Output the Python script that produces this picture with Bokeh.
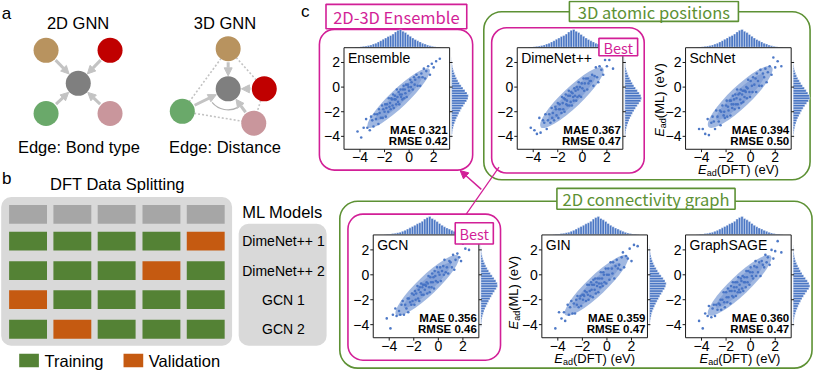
import numpy as np
from bokeh.plotting import figure
from bokeh.models import Range1d, BoxAnnotation, Arrow, NormalHead
from bokeh.core.properties import value
from bokeh.embed import file_html
from bokeh.resources import INLINE

# ======================= DATA =======================
# panel a
gnn_titles = ["2D GNN", "3D GNN"]
gnn_edges = ["Edge: Bond type", "Edge: Distance"]
node_colors = ["#b8935f", "#c00000", "#6aa96a", "#c9969c"]   # tan, red, green, pink
center_color = "#7f7f7f"

# panel b
n_folds = 5
model_runs = ["DimeNet++ 1", "DimeNet++ 2", "GCN 1", "GCN 2"]
validation_fold = [4, 3, 0, 1]
split_legend = ["Training", "Validation"]

# panel c
models = ["Ensemble", "DimeNet++", "SchNet", "GCN", "GIN", "GraphSAGE"]
mae = ["0.321", "0.367", "0.394", "0.356", "0.359", "0.360"]
rmse = ["0.42", "0.47", "0.50", "0.46", "0.47", "0.47"]
tick_values = [-4, -2, 0, 2]
tick_labels = ["\u22124", "\u22122", "0", "2"]

dft = [-4.2, -3.9, -3.7, -3.5, -3.4, -3.2, -3.1, -3.0, -2.9, -2.8,
       -2.7, -2.6, -2.5, -2.45, -2.4, -2.3, -2.2, -2.15, -2.1, -2.0,
       -1.95, -1.9, -1.85, -1.8, -1.7, -1.65, -1.6, -1.55, -1.5, -1.45,
       -1.4, -1.35, -1.3, -1.25, -1.2, -1.15, -1.1, -1.05, -1.0, -0.95,
       -0.9, -0.85, -0.8, -0.75, -0.7, -0.65, -0.6, -0.55, -0.5, -0.45,
       -0.4, -0.35, -0.3, -0.25, -0.2, -0.1, -0.05, 0.0, 0.1, 0.15,
       0.2, 0.3, 0.4, 0.45, 0.5, 0.6, 0.7, 0.8, 0.9, 1.0,
       1.1, 1.2, 1.3, 1.4, 1.55, 1.7, 1.85, 2.0, 2.2, 2.5]
ml_ensemble = [-3.6, -4.1, -3.3, -2.6, -3.3, -3.5, -2.4, -2.7, -3.2, -2.2,
               -2.6, -2.2, -3.0, -1.8, -2.1, -2.5, -1.5, -2.5, -1.8, -2.0,
               -1.4, -2.4, -1.7, -1.4, -2.0, -0.9, -1.6, -1.3, -1.8, -0.9,
               -1.0, -1.5, -0.6, -1.7, -1.0, -0.7, -1.0, -1.4, -0.2, -0.8,
               -1.2, -0.4, -1.4, -0.6, -0.2, -0.8, -0.6, -1.0, -0.2, 0.1,
               -0.9, -0.2, -0.5, 0.2, -0.8, 0.2, 0.0, -0.3, 0.6, 0.0,
               0.4, -0.2, 0.8, 0.2, 0.6, 1.0, 0.1, 0.8, 0.1, 1.1,
               0.8, 1.5, 0.7, 1.3, 1.7, 1.0, 1.9, 1.6, 2.1, 2.3]
ml_dimenet = [-3.3, -3.5, -3.8, -2.5, -3.7, -2.7, -2.9, -2.2, -3.4, -2.7,
              -2.2, -2.9, -1.7, -2.5, -2.1, -2.7, -1.6, -1.8, -2.3, -1.3,
              -2.5, -1.8, -1.4, -1.8, -2.1, -0.8, -1.3, -1.8, -0.9, -2.0,
              -1.0, -0.6, -1.4, -1.1, -1.5, -0.7, -0.3, -1.5, -0.7, -1.2,
              -0.4, -1.5, -0.5, -0.8, -1.1, -0.1, -0.7, -0.3, -1.1, 0.0,
              -0.8, -0.2, 0.4, -0.7, 0.0, -0.8, 0.3, -0.1, 0.7, -0.3,
              0.3, 0.7, -0.2, 0.7, 0.3, 0.5, 0.5, 1.0, 0.1, 0.9,
              1.6, 0.8, 0.4, 1.7, 1.4, 1.0, 2.2, 1.7, 2.2, 1.5]
ml_schnet = [-3.4, -3.4, -3.8, -2.6, -3.9, -2.9, -2.4, -2.8, -3.4, -1.9,
             -2.4, -2.8, -1.9, -3.1, -2.0, -1.5, -2.3, -2.0, -2.5, -1.5,
             -1.1, -2.4, -1.6, -1.9, -1.1, -2.3, -1.1, -1.4, -1.7, -0.7,
             -1.4, -1.0, -1.8, -0.6, -1.4, -0.9, -0.2, -1.4, -0.6, -1.7,
             -0.5, -1.0, -0.2, -1.3, -0.6, -0.3, -1.2, -0.3, -0.8, -0.3,
             -0.4, 0.0, -0.9, -0.1, 0.6, -0.4, -0.8, 0.5, 0.1, -0.4,
             0.8, 0.2, 0.7, -0.4, 1.1, 0.5, 0.1, 1.4, 0.1, 1.1,
             0.8, 1.5, 0.4, 1.2, 1.7, 1.0, 2.4, 1.6, 2.1, 1.7]
ml_gcn = [-3.5, -4.3, -3.2, -2.7, -3.3, -2.9, -3.2, -2.4, -2.1, -3.2,
          -2.4, -2.7, -1.9, -3.0, -1.9, -2.2, -2.4, -1.5, -2.1, -1.6,
          -2.4, -1.3, -2.0, -1.5, -0.9, -1.9, -1.2, -2.1, -1.0, -1.4,
          -0.7, -1.6, -1.0, -0.8, -1.6, -0.8, -1.2, -0.8, -0.9, -0.6,
          -1.5, -0.7, -0.1, -1.0, -1.4, -0.2, -0.6, -1.0, 0.1, -0.6,
          -0.2, -1.1, 0.3, -0.1, -0.5, 0.6, -0.6, 0.2, 0.0, 0.6,
          -0.5, 0.3, 0.7, 0.0, 1.2, 0.2, 0.6, 0.1, 1.1, 1.0,
          0.6, 1.6, 0.4, 1.2, 1.7, 1.4, 1.1, 2.5, 2.1, 2.0]
ml_gin = [-4.3, -3.0, -3.5, -3.0, -3.7, -2.4, -3.2, -2.6, -2.1, -3.1,
          -2.3, -3.1, -2.0, -2.4, -1.7, -2.6, -1.9, -1.7, -2.5, -1.6,
          -2.0, -1.6, -1.7, -1.3, -2.1, -1.4, -0.8, -1.6, -2.0, -0.8,
          -1.3, -1.7, -0.6, -1.2, -0.8, -1.8, -0.4, -0.8, -1.2, -0.3,
          -1.5, -0.6, -0.9, -0.3, -1.4, -0.7, -0.3, -1.0, 0.2, -0.7,
          -0.3, -0.9, 0.2, 0.0, -0.6, 0.5, -0.7, 0.0, 0.5, 0.0,
          -0.4, 1.0, 0.5, 0.1, 1.0, -0.3, 0.7, 1.2, 0.5, 0.8,
          0.4, 1.4, 1.8, 0.6, 1.5, 1.3, 2.1, 1.1, 2.4, 2.3]
ml_sage = [-3.7, -4.3, -3.1, -3.3, -2.5, -3.4, -2.7, -2.4, -3.3, -2.4,
           -2.8, -2.3, -2.4, -2.0, -2.8, -2.0, -1.4, -2.2, -2.6, -1.4,
           -1.8, -2.2, -1.1, -1.8, -1.3, -2.3, -0.9, -1.3, -1.7, -0.6,
           -1.8, -1.0, -1.3, -0.6, -1.7, -1.0, -0.6, -1.4, -0.2, -1.2,
           -0.8, -1.4, -0.3, -0.5, -1.1, -0.1, -1.3, -0.6, -0.2, -0.6,
           -1.0, 0.3, -0.2, -0.6, 0.3, -0.8, 0.2, 0.6, -0.1, 0.2,
           -0.3, 0.7, 1.1, -0.1, 0.6, 0.2, 1.0, -0.1, 1.1, 0.8,
           0.6, 1.6, 1.0, 1.4, 0.8, 2.0, 1.3, 1.9, 2.7, 1.8]
ml_values = [ml_ensemble, ml_dimenet, ml_schnet, ml_gcn, ml_gin, ml_sage]

# dense core of each cloud (estimated): centre, length, thickness
band_center = [(-0.85, -0.9), (-0.85, -0.85), (-0.85, -0.8), (-0.9, -0.85), (-0.85, -0.85), (-0.9, -0.85)]
band_length = [6.9, 7.0, 7.1, 7.0, 7.0, 7.0]
band_thick = [1.45, 1.6, 1.7, 1.55, 1.55, 1.55]

hist_edges = [-4.4, -4.2, -4.0, -3.8, -3.6, -3.4, -3.2, -3.0, -2.8, -2.6, -2.4, -2.2,
              -2.0, -1.8, -1.6, -1.4, -1.2, -1.0, -0.8, -0.6, -0.4, -0.2, 0.0, 0.2,
              0.4, 0.6, 0.8, 1.0, 1.2, 1.4, 1.6, 1.8, 2.0, 2.2, 2.4, 2.6]
dft_hist = [0.01, 0.02, 0.03, 0.05, 0.07, 0.10, 0.13, 0.18, 0.23, 0.30,
            0.37, 0.45, 0.52, 0.60, 0.66, 0.74, 0.86, 0.95, 1.00, 0.90,
            0.82, 0.72, 0.62, 0.52, 0.43, 0.36, 0.30, 0.23, 0.18, 0.12,
            0.08, 0.05, 0.03, 0.02, 0.01]
hist_ensemble = [0.00, 0.01, 0.02, 0.04, 0.06, 0.09, 0.13, 0.18, 0.24, 0.30,
                 0.37, 0.44, 0.52, 0.60, 0.70, 0.80, 0.90, 0.98, 1.00, 0.92,
                 0.80, 0.68, 0.57, 0.47, 0.38, 0.30, 0.23, 0.17, 0.12, 0.08,
                 0.05, 0.03, 0.02, 0.01, 0.00]
hist_dimenet = [0.00, 0.01, 0.03, 0.05, 0.07, 0.10, 0.14, 0.19, 0.25, 0.31,
                0.38, 0.46, 0.55, 0.64, 0.74, 0.85, 0.95, 1.00, 0.96, 0.86,
                0.75, 0.64, 0.54, 0.45, 0.37, 0.29, 0.22, 0.16, 0.11, 0.07,
                0.04, 0.03, 0.02, 0.01, 0.00]
hist_schnet = [0.00, 0.01, 0.02, 0.04, 0.06, 0.09, 0.12, 0.17, 0.22, 0.28,
               0.35, 0.43, 0.51, 0.60, 0.70, 0.81, 0.92, 1.00, 0.97, 0.88,
               0.78, 0.67, 0.56, 0.46, 0.37, 0.28, 0.21, 0.15, 0.10, 0.06,
               0.04, 0.02, 0.01, 0.00, 0.00]
hist_gcn = [0.00, 0.02, 0.03, 0.05, 0.07, 0.10, 0.14, 0.19, 0.25, 0.32,
            0.39, 0.47, 0.55, 0.63, 0.72, 0.82, 0.92, 1.00, 0.98, 0.90,
            0.79, 0.68, 0.57, 0.47, 0.38, 0.30, 0.23, 0.17, 0.12, 0.08,
            0.05, 0.03, 0.02, 0.01, 0.00]
hist_gin = [0.00, 0.01, 0.02, 0.04, 0.07, 0.10, 0.13, 0.18, 0.24, 0.31,
            0.38, 0.46, 0.54, 0.62, 0.71, 0.80, 0.90, 0.97, 1.00, 0.93,
            0.82, 0.70, 0.59, 0.49, 0.40, 0.31, 0.24, 0.18, 0.13, 0.09,
            0.06, 0.04, 0.02, 0.01, 0.00]
hist_sage = [0.00, 0.01, 0.02, 0.04, 0.06, 0.09, 0.13, 0.18, 0.24, 0.30,
             0.37, 0.45, 0.53, 0.62, 0.72, 0.83, 0.94, 1.00, 0.95, 0.85,
             0.74, 0.63, 0.53, 0.44, 0.36, 0.28, 0.21, 0.15, 0.11, 0.07,
             0.05, 0.03, 0.02, 0.01, 0.00]
ml_hists = [hist_ensemble, hist_dimenet, hist_schnet, hist_gcn, hist_gin, hist_sage]

# ======================= STYLE / LAYOUT =======================
FONT = "Liberation Sans"
BOXFONT = "Noto Sans CJK JP"
MAG = "#d21f97"
GRN = "#5d9134"
ARROW_GRAY = "#c3c3c3"
PT = "#4472c4"
HIST = "#4a76c4"
TRAIN = "#548235"
VALID = "#c55a11"
HEAD = "#a6a6a6"
BOXGRAY = "#d9d9d9"

W, H = 814, 370
MX0, MX1 = 2.0, 829.0      # reference-pixel frame (x)
MY0, MY1 = 384.0, 0.0      # reference-pixel frame (y, inverted)
SX = W / (MX1 - MX0)
SY = H / (MY0 - MY1)

p = figure(width=W, height=H, x_range=Range1d(MX0, MX1), y_range=Range1d(MY0, MY1),
           output_backend="svg", toolbar_location=None, min_border=0,
           x_axis_type=None, y_axis_type=None)
p.outline_line_color = None
p.background_fill_color = "white"
p.border_fill_color = "white"


def txt(x, y, t, size="16px", color="black", align="center", baseline="middle",
        font=FONT, style="normal", angle=0.0, **kw):
    p.text(x=x, y=y, text=t, text_font=value(font), text_font_size=size,
           text_color=color, text_align=align, text_baseline=baseline,
           text_font_style=style, angle=angle, **kw)


def rbox(l, r, t, b, line_color=None, fill_color=None, radius=0, lw=1.6):
    p.add_layout(BoxAnnotation(left=l, right=r, top=t, bottom=b,
                               fill_color=fill_color, fill_alpha=1.0 if fill_color else 0.0,
                               line_color=line_color, line_width=lw, line_alpha=1.0 if line_color else 0.0,
                               border_radius=radius, level="underlay"))


def xr(va, Xa, vb, Xb):
    k = (Xb - Xa) / (vb - va)
    s = va - (Xa - MX0) / k
    return Range1d(s, s + (MX1 - MX0) / k)


def yr(v_bot, Y_bot, v_top, Y_top):
    k = (Y_bot - Y_top) / (v_top - v_bot)
    s = v_bot - (MY0 - Y_bot) / k
    return Range1d(s, s + (MY0 - MY1) / k)


# ======================= PANEL a =======================
txt([8], [13], ["a"], size="17px")
txt([80.8, 230], [23.3, 23.3], gnn_titles, size="16.5px")
txt([81.7, 230], [151.7, 151.7], gnn_edges, size="16.5px")

pos2d = [(48.3, 51.7), (113.3, 51.7), (48.3, 117.3), (113.3, 117.3)]
c2d = (81.0, 86.0)
pos3d = [(233.3, 50.0), (270.0, 91.7), (186.7, 115.0), (259.3, 127.3)]
c3d = (233.3, 91.7)

pairs = [(0, 2), (0, 1), (1, 3), (2, 3)]
p.segment(x0=[pos3d[a][0] for a, b in pairs], y0=[pos3d[a][1] for a, b in pairs],
          x1=[pos3d[b][0] for a, b in pairs], y1=[pos3d[b][1] for a, b in pairs],
          line_color=ARROW_GRAY, line_width=1.6, line_dash="2 2")
p.arc(x=[c3d[0]], y=[c3d[1]], radius=21, radius_units="screen",
      start_angle=np.radians(-140), end_angle=np.radians(-62), direction="anticlock",
      line_color="#b0b0b0", line_width=1.2)


def arrow_between(src, dst, r_src=14.0, r_dst=13.5):
    v = np.array([dst[0] - src[0], dst[1] - src[1]])
    u = v / np.hypot(*v)
    p.add_layout(Arrow(end=NormalHead(size=8, fill_color=ARROW_GRAY, line_color=ARROW_GRAY),
                       x_start=src[0] + u[0] * r_src, y_start=src[1] + u[1] * r_src,
                       x_end=dst[0] - u[0] * r_dst, y_end=dst[1] - u[1] * r_dst,
                       line_color=ARROW_GRAY, line_width=3))


for q in pos2d:
    arrow_between(q, c2d)
for q in pos3d:
    arrow_between(q, c3d)

p.scatter(x=[q[0] for q in pos2d] + [c2d[0]], y=[q[1] for q in pos2d] + [c2d[1]],
          marker="circle", size=25, fill_color=node_colors + [center_color], line_color=None)
p.scatter(x=[q[0] for q in pos3d] + [c3d[0]], y=[q[1] for q in pos3d] + [c3d[1]],
          marker="circle", size=25, fill_color=node_colors + [center_color], line_color=None)

# ======================= PANEL b =======================
txt([8.3], [185], ["b"], size="17px")
txt([120.8], [190.7], ["DFT Data Splitting"], size="16.5px")
rbox(2.7, 237.3, 204, 358.3, fill_color=BOXGRAY, radius=10)
rbox(244, 333.3, 231.7, 358.3, fill_color=BOXGRAY, radius=10)

col_x = [30.0, 75.0, 120.0, 165.5, 210.5]
row_y = [222.0, 249.7, 280.3, 310.5, 341.2]
cx, cy, cc = [], [], []
for f in range(n_folds):
    cx.append(col_x[f]); cy.append(row_y[0]); cc.append(HEAD)
for i, vf in enumerate(validation_fold):
    for f in range(n_folds):
        cx.append(col_x[f]); cy.append(row_y[i + 1])
        cc.append(VALID if f == vf else TRAIN)
p.rect(x=cx, y=cy, width=38.5, height=19.5, fill_color=cc, line_color=None)

txt([288.5], [220], ["ML Models"], size="16.5px")
txt([289.5] * 4, row_y[1:], model_runs, size="14px")

p.rect(x=[31, 137], y=[373.7, 373.7], width=20, height=14, fill_color=[TRAIN, VALID], line_color=None)
txt([46.7, 152.7], [373.7, 373.7], split_legend, align="left", size="16.5px")

# ======================= PANEL c =======================
txt([311.7], [11.7], ["c"], size="17px")

rbox(493, 824.5, 11.7, 186, line_color=GRN, radius=18)
rbox(346.7, 826.5, 208.3, 381.5, line_color=GRN, radius=18)
rbox(326, 481.7, 30, 176, line_color=MAG, radius=15)
rbox(501, 656, 28.3, 179, line_color=MAG, radius=15)
rbox(355, 510, 221.7, 373.3, line_color=MAG, radius=15)

XLIM = (-5.3, 3.3)
YLIM = (-5.05, 3.2)
frames = [(351.0, 458.3, 49.0, 154.4), (527.0, 634.3, 49.0, 154.4), (698.0, 805.3, 49.0, 154.4),
          (380.7, 488.0, 243.3, 350.0), (552.0, 659.3, 243.3, 350.0), (698.0, 805.3, 243.3, 350.0)]

for i, m in enumerate(models):
    X0, X1, Y0, Y1 = frames[i]
    xn, yn, htn, hrn = f"px{i}", f"py{i}", f"pht{i}", f"phr{i}"
    p.extra_x_ranges[xn] = xr(XLIM[0], X0, XLIM[1], X1)
    p.extra_y_ranges[yn] = yr(YLIM[0], Y1, YLIM[1], Y0)
    p.extra_y_ranges[htn] = yr(0.0, Y0 - 0.5, 1.0, Y0 - 19.0)
    p.extra_x_ranges[hrn] = xr(0.0, X1 + 2.0, 1.0, X1 + 19.0)
    kx = (X1 - X0) / (XLIM[1] - XLIM[0])
    ky = (Y1 - Y0) / (YLIM[1] - YLIM[0])
    R = dict(x_range_name=xn, y_range_name=yn)

    p.quad(left=hist_edges[:-1], right=hist_edges[1:], bottom=0, top=dft_hist,
           x_range_name=xn, y_range_name=htn, fill_color=HIST, line_color="white", line_width=0.4)
    p.quad(left=0, right=ml_hists[i], bottom=hist_edges[:-1], top=hist_edges[1:],
           x_range_name=hrn, y_range_name=yn, fill_color=HIST, line_color="white", line_width=0.4)

    bx, by = band_center[i]
    p.ellipse(x=[bx], y=[by], width=[band_length[i]], height=[band_thick[i]], angle=0.76,
              fill_color=PT, fill_alpha=0.5, line_color=None, **R)
    p.ellipse(x=[bx], y=[by], width=[band_length[i] * 0.75], height=[band_thick[i] * 0.62], angle=0.76,
              fill_color=PT, fill_alpha=0.3, line_color=None, **R)
    p.scatter(x=dft, y=ml_values[i], size=2.6, fill_color=PT, line_color=None, fill_alpha=0.95, **R)

    p.quad(left=XLIM[0], right=XLIM[1], bottom=YLIM[0], top=YLIM[1], fill_color=None,
           line_color="#1a1a1a", line_width=1, **R)
    tlx, tly = 3.0 / kx, 3.0 / ky
    n = len(tick_values)
    p.segment(x0=[XLIM[0]] * n, y0=tick_values, x1=[XLIM[0] - tlx] * n, y1=tick_values,
              line_color="#1a1a1a", line_width=1, **R)
    p.segment(x0=[XLIM[1]] * n, y0=tick_values, x1=[XLIM[1] + tlx] * n, y1=tick_values,
              line_color="#1a1a1a", line_width=1, **R)
    p.segment(x0=tick_values, y0=[YLIM[0]] * n, x1=tick_values, y1=[YLIM[0] - tly] * n,
              line_color="#1a1a1a", line_width=1, **R)
    txt([XLIM[0]] * n, tick_values, tick_labels, size="14px", align="right", x_offset=-4, **R)
    txt(tick_values, [YLIM[0] - 3.0 / ky] * n, tick_labels, size="14px", baseline="top", **R)

    txt([XLIM[0] + 4.0 / kx], [YLIM[1] - 2.0 / ky], [m], size="14px", align="left", baseline="top", **R)
    txt([XLIM[1]] * 2, [YLIM[0] + 20.0 / ky, YLIM[0] + 8.7 / ky], ["MAE " + mae[i], "RMSE " + rmse[i]],
        size="11.5px", style="bold", align="right", x_offset=-2, **R)


def xlabel(xc, yc, inner, inner_w):
    widths = [8.7, 10.0, inner_w]
    total = sum(widths)
    txt([xc + (-total / 2) / SX], [yc], ["E"], size="13px", style="italic", align="left")
    txt([xc + (-total / 2 + widths[0]) / SX], [yc + 3.5 / SY], ["ad"], size="9px", align="left")
    txt([xc + (-total / 2 + widths[0] + widths[1]) / SX], [yc], [inner], size="13px", align="left")


def ylabel(xc, yc, inner, inner_w):
    widths = [8.7, 10.0, inner_w]
    total = sum(widths)
    a = np.pi / 2
    txt([xc], [yc + (total / 2) / SY], ["E"], size="13px", style="italic", align="left", angle=a)
    txt([xc + 3.5 / SX], [yc + (total / 2 - widths[0]) / SY], ["ad"], size="9px", align="left", angle=a)
    txt([xc], [yc + (total / 2 - widths[0] - widths[1]) / SY], [inner], size="13px", align="left", angle=a)


xlabel(751.7, 175.0, "(DFT) (eV)", 62.1)
xlabel(605.7, 371.7, "(DFT) (eV)", 62.1)
xlabel(753.3, 371.7, "(DFT) (eV)", 62.1)
ylabel(671.7, 103.3, "(ML) (eV)", 54.9)
ylabel(523.3, 303.3, "(ML) (eV)", 54.9)

# label boxes (square corners)
lb_l = [332.7, 580.0, 567.3, 610.0, 464.0]
lb_r = [475.7, 751.7, 748.3, 649.3, 502.7]
lb_t = [4.0, 1.0, 195.0, 39.3, 230.7]
lb_b = [29.3, 21.7, 216.7, 57.3, 252.7]
lb_c = [MAG, GRN, GRN, MAG, MAG]
lb_text = ["2D-3D Ensemble", "3D atomic positions", "2D connectivity graph", "Best", "Best"]
lb_size = ["16.5px", "16.5px", "16.5px", "14.5px", "14.5px"]
p.quad(left=lb_l, right=lb_r, top=lb_t, bottom=lb_b, fill_color="white", line_color=lb_c, line_width=1.6)
for j in range(len(lb_text)):
    txt([(lb_l[j] + lb_r[j]) / 2], [(lb_t[j] + lb_b[j]) / 2 + 0.5], [lb_text[j]],
        size=lb_size[j], color=lb_c[j], font=BOXFONT)

# ensemble arrow
p.line(x=[475.0, 508.5], y=[222.0, 173.0], line_color=MAG, line_width=1.2)
p.add_layout(Arrow(end=NormalHead(size=8, fill_color=MAG, line_color=MAG),
                   x_start=490.5, y_start=196.0, x_end=469.0, y_end=176.5,
                   line_color=MAG, line_width=1.4))

open("out.html", "w").write(file_html(p, INLINE))
